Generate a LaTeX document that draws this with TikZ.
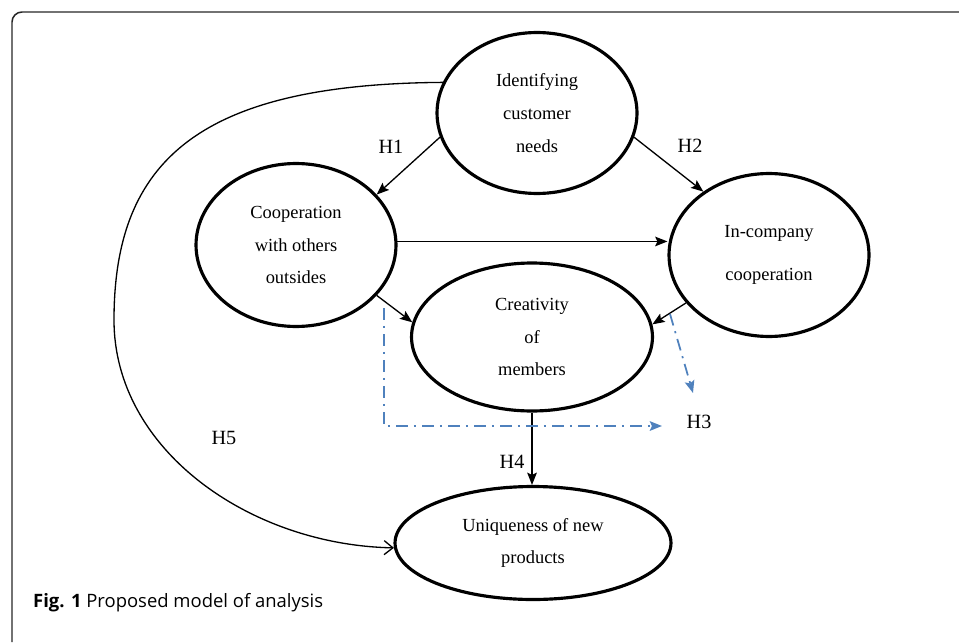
\documentclass[tikz,border=0pt]{standalone}
\usepackage{fontspec}
\setmainfont{Liberation Serif}
\newfontfamily\capfont{Open Sans}
\usetikzlibrary{shapes.geometric, arrows.meta}
\definecolor{hblue}{RGB}{79,129,189}
\tikzset{
->,
>={Stealth[length=7pt, width=5.5pt, inset=1.3pt]},
every node/.style={font=\fontsize{10.5}{18.7}\selectfont}, % text inside the ellipses
construct/.style={ellipse, draw, line width=1.8pt, align=center, inner sep=0pt}, % sets the properties for each construct
hyp/.style={font=\fontsize{11.5}{13}\selectfont}, % H labels
link/.style={line width=0.75pt},
effect/.style={line width=1pt, hblue, dash pattern=on 6.8pt off 3.4pt on 1.2pt off 3.4pt}, % moderating effect
}

\begin{document}
\begin{tikzpicture}[x=0.02cm, y=-0.02cm]
\useasboundingbox (0,0) rectangle (959,642);
\draw[-, line width=0.85pt, rounded corners=5.7pt, black!85] (959,12) -- (12,12) -- (12,642);

\node[construct, minimum width=4.0cm, minimum height=3.22cm] at (537,113) (need) {Identifying\\customer\\needs};
\node[construct, minimum width=4.0cm, minimum height=3.26cm] at (296,245) (coop) {Cooperation\\with others\\outsides};
\node[construct, minimum width=4.0cm, minimum height=3.26cm] at (769,255) (inc) {In-company\\[5.7pt]cooperation};
\node[construct, minimum width=4.82cm, minimum height=2.96cm] at (532,337) (creat) {Creativity\\of\\members};
\node[construct, minimum width=5.52cm, minimum height=2.26cm] at (533,543) (uniq) {Uniqueness of new\\products};

\draw[link] (need.194) -- (coop.32);
\draw[link] (need.-14) -- (inc.136);
\draw[link] (coop.2) -- (coop.2 -| inc.west);
\draw[link] (coop.-32) -- (creat.173);
\draw[link] (inc.210) -- (creat.6);
\draw[link] (creat.south) -- (creat.south |- uniq.north);
\draw[link, -{Straight Barb[length=5pt, width=8pt]}] (need.162) .. controls (200,84) and (114,160) .. (114,320) .. controls (114,450) and (250,545) .. (uniq.182);

\coordinate (h3a) at (384,308);
\coordinate (h3b) at (662,426);
\coordinate (h3c) at (670,314);
\coordinate (h3d) at (693,393);
\draw[effect] (h3a) |- (h3b);
\draw[effect] (h3c) -- (h3d);

\node[hyp] at (391,147) (h1) {H1};
\node[hyp] at (690,146) (h2) {H2};
\node[hyp] at (699,422) (h3) {H3};
\node[hyp] at (512,462) (h4) {H4};
\node[hyp] at (224,438) (h5) {H5};

\node[anchor=base west, font=\capfont\fontsize{10.5}{12}\selectfont] at (27,607) (cap) {\textbf{Fig. 1} Proposed model of analysis};

\end{tikzpicture}
\end{document}
